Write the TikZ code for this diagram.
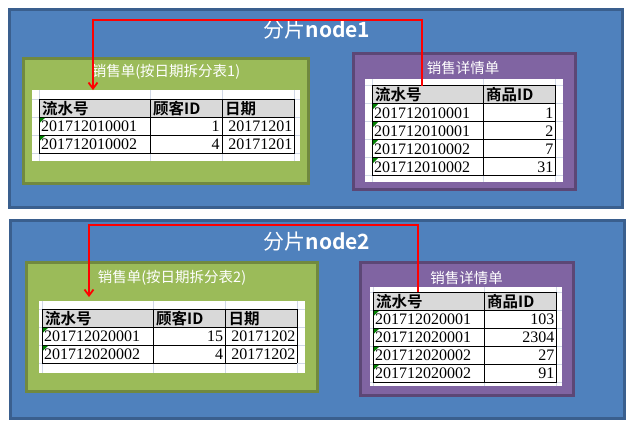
\documentclass[tikz,border=0pt]{standalone}
\usepackage{fontspec}
\setmainfont{Liberation Serif}
\newfontfamily\cjk{Noto Sans CJK SC}
\newfontfamily\cjkb{Noto Sans CJK SC Bold}
\usetikzlibrary{arrows.meta}
\definecolor{outerfill}{HTML}{4F81BD}
\definecolor{outerline}{HTML}{3A5F8E}
\definecolor{greenfill}{HTML}{9BBB59}
\definecolor{greenline}{HTML}{71893F}
\definecolor{purplefill}{HTML}{8064A2}
\definecolor{purpleline}{HTML}{5C4776}
\definecolor{hdrfill}{HTML}{D9D9D9}
\definecolor{gridlight}{HTML}{D0D7E5}
\definecolor{xlgreen}{HTML}{008000}
\tikzset{
  outerbox/.style={draw=outerline, fill=outerfill, line width=3pt},
  greenbox/.style={draw=greenline, fill=greenfill, line width=3pt},
  purplebox/.style={draw=purpleline, fill=purplefill, line width=3pt},
  shardtitle/.style={text=white, font=\fontsize{21}{21}\selectfont, inner sep=0pt},
  tabletitle/.style={text=white, font=\cjk\fontsize{14.5}{14.5}\selectfont, inner sep=0pt},
  hdr/.style={font=\cjkb\fontsize{15.5}{15.5}\selectfont, inner sep=0pt, anchor=west},
  numl/.style={font=\fontsize{16}{16}\selectfont, inner sep=0pt, anchor=west},
  numr/.style={font=\fontsize{16}{16}\selectfont, inner sep=0pt, anchor=east},
  lightgrid/.style={draw=gridlight, line width=0.8pt},
  tablegrid/.style={draw=black, line width=1pt},
  link/.style={draw=red, line width=1.6pt, -{Straight Barb[length=6pt,width=9pt,line width=1.8pt]}},
  tri/.style={fill=xlgreen, draw=none},
}
\begin{document}
\begin{tikzpicture}[x=1pt,y=-1pt]
\useasboundingbox (0,0) rectangle (634,424);
\fill[white] (0,0) rectangle (634,424);

% ================= shard 1 =================
\draw[outerbox] (9,9) rectangle (622,207);
\node[shardtitle] (s1) at (317,30) {{\cjk 分片}{\cjkb node1}};

% green table 1
\draw[greenbox] (23,58) rectangle (308,183);
\node[tabletitle] (g1t) at (166,72) {销售单(按日期拆分表1)};
\fill[white] (32,90) rectangle (300,161);
\coordinate (g1top) at (93,90);
\foreach \x in {39.3,150.3,222.3,294.7} \draw[lightgrid] (\x,90) -- (\x,161);
\foreach \y in {99.3,117.3,135.3,153.3} \draw[lightgrid] (32,\y) -- (300,\y);
\fill[hdrfill] (39.3,99.3) rectangle (294.7,117.3);
\foreach \y in {99.3,117.3,135.3,153.3} \draw[tablegrid] (39.3,\y) -- (294.7,\y);
\foreach \x in {39.3,150.3,222.3,294.7} \draw[tablegrid] (\x,99.3) -- (\x,153.3);
\foreach \y in {117.3,135.3} \fill[tri] (39.8,\y+0.5) -- (45,\y+0.5) -- (39.8,\y+5.5) -- cycle;
\node[hdr] (g1h1) at (42,108.6) {流水号};
\node[hdr] (g1h2) at (153,108.6) {顾客ID};
\node[hdr] (g1h3) at (225,108.6) {日期};
\node[numl] (g1a1) at (41,126.6) {201712010001};
\node[numr] (g1a2) at (219.8,126.6) {1};
\node[numr] (g1a3) at (292.5,126.6) {20171201};
\node[numl] (g1b1) at (41,144.6) {201712010002};
\node[numr] (g1b2) at (219.8,144.6) {4};
\node[numr] (g1b3) at (292.5,144.6) {20171201};

% purple table 1
\draw[purplebox] (353,53) rectangle (575,189);
\node[tabletitle] (p1t) at (463,68) {销售详情单};
\fill[white] (365,79) rectangle (563,182);
\foreach \x in {372.3,483.3,555.7} \draw[lightgrid] (\x,79) -- (\x,182);
\foreach \y in {85.7,103.7,121.7,139.7,157.7,175.7} \draw[lightgrid] (365,\y) -- (563,\y);
\fill[hdrfill] (372.3,85.7) rectangle (555.7,103.7);
\foreach \y in {85.7,103.7,121.7,139.7,157.7,175.7} \draw[tablegrid] (372.3,\y) -- (555.7,\y);
\foreach \x in {372.3,483.3,555.7} \draw[tablegrid] (\x,85.7) -- (\x,175.7);
\foreach \y in {103.7,121.7,139.7,157.7} \fill[tri] (372.8,\y+0.5) -- (378,\y+0.5) -- (372.8,\y+5.5) -- cycle;
\coordinate (p1top) at (422,86);
\node[hdr] (p1h1) at (375,95) {流水号};
\node[hdr] (p1h2) at (486,95) {商品ID};
\node[numl] (p1a1) at (374,113) {201712010001};
\node[numr] (p1a2) at (553.5,113) {1};
\node[numl] (p1b1) at (374,131) {201712010001};
\node[numr] (p1b2) at (553.5,131) {2};
\node[numl] (p1c1) at (374,149) {201712010002};
\node[numr] (p1c2) at (553.5,149) {7};
\node[numl] (p1d1) at (374,167) {201712010002};
\node[numr] (p1d2) at (553.5,167) {31};

\draw[link] (p1top) |- (93,20) -- (g1top);

% ================= shard 2 =================
\draw[outerbox] (10,220) rectangle (624,418);
\node[shardtitle] (s2) at (317,242) {{\cjk 分片}{\cjkb node2}};

% green table 2
\draw[greenbox] (26,262) rectangle (317,391);
\node[tabletitle] (g2t) at (172,278) {销售单(按日期拆分表2)};
\fill[white] (39,300.7) rectangle (305,372.7);
\coordinate (g2top) at (89,297);
\foreach \x in {42.3,153.3,225.7,297.3} \draw[lightgrid] (\x,300.7) -- (\x,372.7);
\foreach \y in {309.3,327.3,345.3,363.3} \draw[lightgrid] (39,\y) -- (305,\y);
\fill[hdrfill] (42.3,309.3) rectangle (297.3,327.3);
\foreach \y in {309.3,327.3,345.3,363.3} \draw[tablegrid] (42.3,\y) -- (297.3,\y);
\foreach \x in {42.3,153.3,225.7,297.3} \draw[tablegrid] (\x,309.3) -- (\x,363.3);
\foreach \y in {327.3,345.3} \fill[tri] (42.8,\y+0.5) -- (48,\y+0.5) -- (42.8,\y+5.5) -- cycle;
\node[hdr] (g2h1) at (45,318.6) {流水号};
\node[hdr] (g2h2) at (156,318.6) {顾客ID};
\node[hdr] (g2h3) at (228.5,318.6) {日期};
\node[numl] (g2a1) at (44,336.6) {201712020001};
\node[numr] (g2a2) at (223.2,336.6) {15};
\node[numr] (g2a3) at (295.5,336.6) {20171202};
\node[numl] (g2b1) at (44,354.6) {201712020002};
\node[numr] (g2b2) at (223.2,354.6) {4};
\node[numr] (g2b3) at (295.5,354.6) {20171202};

% purple table 2
\draw[purplebox] (360,262) rectangle (573,395);
\node[tabletitle] (p2t) at (466.7,277.7) {销售详情单};
\fill[white] (370,287) rectangle (562,386);
\foreach \x in {373.3,484.3,556.7} \draw[lightgrid] (\x,287) -- (\x,386);
\foreach \y in {292.3,310.3,328.3,346.3,364.3,382.5} \draw[lightgrid] (370,\y) -- (562,\y);
\fill[hdrfill] (373.3,292.3) rectangle (556.7,310.3);
\foreach \y in {292.3,310.3,328.3,346.3,364.3,382.5} \draw[tablegrid] (373.3,\y) -- (556.7,\y);
\foreach \x in {373.3,484.3,556.7} \draw[tablegrid] (\x,292.3) -- (\x,382.5);
\foreach \y in {310.3,328.3,346.3,364.3} \fill[tri] (373.8,\y+0.5) -- (379,\y+0.5) -- (373.8,\y+5.5) -- cycle;
\coordinate (p2top) at (418,292.3);
\node[hdr] (p2h1) at (376,301.6) {流水号};
\node[hdr] (p2h2) at (487,301.6) {商品ID};
\node[numl] (p2a1) at (375,319.6) {201712020001};
\node[numr] (p2a2) at (554.5,319.6) {103};
\node[numl] (p2b1) at (375,337.6) {201712020001};
\node[numr] (p2b2) at (554.5,337.6) {2304};
\node[numl] (p2c1) at (375,355.6) {201712020002};
\node[numr] (p2c2) at (554.5,355.6) {27};
\node[numl] (p2d1) at (375,373.6) {201712020002};
\node[numr] (p2d2) at (554.5,373.6) {91};

\draw[link] (p2top) |- (89,225) -- (g2top);
\end{tikzpicture}
\end{document}
